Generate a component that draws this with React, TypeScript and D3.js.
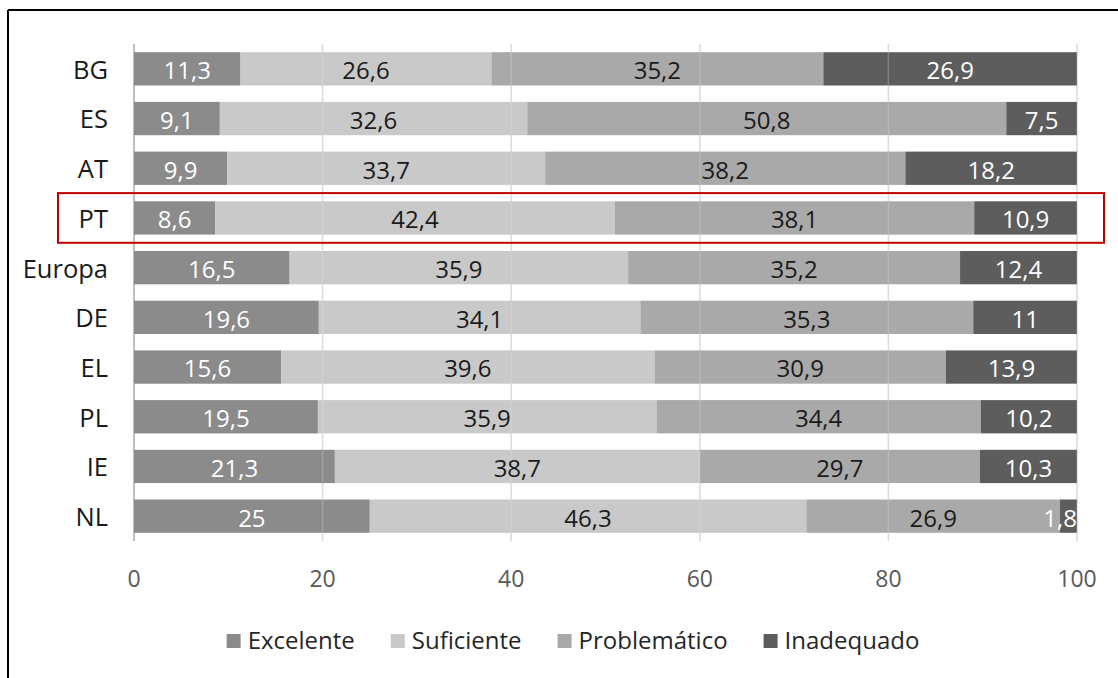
import React from "react";
import * as d3 from "d3";

const categories = ["BG", "ES", "AT", "PT", "Europa", "DE", "EL", "PL", "IE", "NL"];
const seriesNames = ["Excelente", "Suficiente", "Problemático", "Inadequado"];
const excelente = [11.3, 9.1, 9.9, 8.6, 16.5, 19.6, 15.6, 19.5, 21.3, 25];
const suficiente = [26.6, 32.6, 33.7, 42.4, 35.9, 34.1, 39.6, 35.9, 38.7, 46.3];
const problematico = [35.2, 50.8, 38.2, 38.1, 35.2, 35.3, 30.9, 34.4, 29.7, 26.9];
const inadequado = [26.9, 7.5, 18.2, 10.9, 12.4, 11, 13.9, 10.2, 10.3, 1.8];
const xTicks = [0, 20, 40, 60, 80, 100];
const highlighted = "PT";

const colors = ["#8b8b8b", "#c9c9c9", "#a9a9a9", "#5d5d5d"];
const labelColors = ["#ffffff", "#1a1a1a", "#1a1a1a", "#ffffff"];
const FONT = "'Open Sans', 'Noto Sans', sans-serif";

const W = 1118;
const H = 678;

function measure(text: string, size: number): number {
  if (typeof document === "undefined") return text.length * size * 0.55;
  const c = document.createElement("canvas");
  const ctx = c.getContext("2d");
  if (!ctx) return text.length * size * 0.55;
  ctx.font = `${size}px 'Open Sans'`;
  return ctx.measureText(text).width;
}

export default function App() {
  const x = d3.scaleLinear().domain([0, 100]).range([134, 1077]);
  const y = d3
    .scaleBand<string>()
    .domain(categories)
    .range([44, 541])
    .paddingInner(0.33)
    .paddingOuter(0.165);

  const rows = categories.map((c, i) => ({
    cat: c,
    vals: [excelente[i], suficiente[i], problematico[i], inadequado[i]],
  }));
  const stack = d3
    .stack<any>()
    .keys(["0", "1", "2", "3"])
    .value((d: any, k: string) => d.vals[+k]);
  const stacked = stack(rows);

  const fmt = (v: number) => String(v).replace(".", ",");
  const valueSize = 24;

  // legend layout
  const legendSize = 24;
  const sq = 14;
  const gapText = 7;
  const gapItem = 36;
  const widths = seriesNames.map((s) => sq + gapText + measure(s, legendSize));
  const total = widths.reduce((a, b) => a + b, 0) + gapItem * (seriesNames.length - 1);
  const legendCenter = 573;
  let lx = legendCenter - total / 2;
  const legendItems = seriesNames.map((s, i) => {
    const item = { name: s, x: lx, color: colors[i] };
    lx += widths[i] + gapItem;
    return item;
  });
  const legendY = 641;

  const step = y.step();
  const hy = (y(highlighted) as number) + y.bandwidth() / 2;
  const xMax = x(100);

  return (
    <svg
      width={W}
      height={H}
      style={{ position: "absolute", left: 0, top: 0, background: "#fff" }}
      fontFamily={FONT}
    >
      <rect x={0} y={0} width={W} height={H} fill="#fff" />
      {/* frame */}
      <line x1={8} x2={W} y1={10} y2={10} stroke="#000" strokeWidth={2} />
      <line x1={8} x2={8} y1={10} y2={H} stroke="#000" strokeWidth={2} />

      {/* gridlines (under bars) */}
      {xTicks.map((t) => (
        <line
          key={t}
          x1={x(t)}
          x2={x(t)}
          y1={44}
          y2={541}
          stroke={t === 0 ? "#bfbfbf" : "#d9d9d9"}
          strokeWidth={t === 0 ? 2 : 1.5}
        />
      ))}

      {/* bars */}
      {stacked.map((layer, si) =>
        layer.map((d: any, i: number) => (
          <rect
            key={`${si}-${i}`}
            x={x(d[0])}
            width={x(d[1]) - x(d[0])}
            y={y(d.data.cat)}
            height={y.bandwidth()}
            fill={colors[si]}
          />
        ))
      )}

      {/* gridlines faintly visible over bars */}
      {xTicks
        .filter((t) => t > 0)
        .map((t) => (
          <line
            key={`o${t}`}
            x1={x(t)}
            x2={x(t)}
            y1={44}
            y2={541}
            stroke="#e6e6e6"
            strokeOpacity={0.25}
            strokeWidth={1.5}
          />
        ))}

      {/* value labels */}
      {stacked.map((layer, si) =>
        layer.map((d: any, i: number) => {
          const label = fmt(d.data.vals[si]);
          const w = measure(label, valueSize);
          let cx = (x(d[0]) + x(d[1])) / 2;
          if (cx + w / 2 > xMax) cx = xMax - w / 2;
          return (
            <text
              key={`t${si}-${i}`}
              x={cx}
              y={(y(d.data.cat) as number) + y.bandwidth() / 2 + 2}
              dy="0.35em"
              textAnchor="middle"
              fontSize={valueSize}
              fill={labelColors[si]}
            >
              {label}
            </text>
          );
        })
      )}

      {/* category labels */}
      {categories.map((c) => (
        <text
          key={c}
          x={108}
          y={(y(c) as number) + y.bandwidth() / 2 + 1}
          dy="0.35em"
          textAnchor="end"
          fontSize={25.5}
          fill="#1a1a1a"
        >
          {c}
        </text>
      ))}

      {/* x tick labels */}
      {xTicks.map((t) => (
        <text
          key={`x${t}`}
          x={x(t)}
          y={579}
          dy="0.35em"
          textAnchor="middle"
          fontSize={23}
          fill="#595959"
        >
          {t}
        </text>
      ))}

      {/* highlight box */}
      <rect
        x={58}
        y={hy - step / 2}
        width={1104 - 58}
        height={step}
        fill="none"
        stroke="#c00000"
        strokeWidth={2}
      />

      {/* legend */}
      {legendItems.map((it) => (
        <g key={it.name}>
          <rect x={it.x} y={legendY - sq / 2} width={sq} height={sq} fill={it.color} />
          <text
            x={it.x + sq + gapText}
            y={legendY}
            dy="0.35em"
            fontSize={legendSize}
            fill="#262626"
          >
            {it.name}
          </text>
        </g>
      ))}
    </svg>
  );
}
